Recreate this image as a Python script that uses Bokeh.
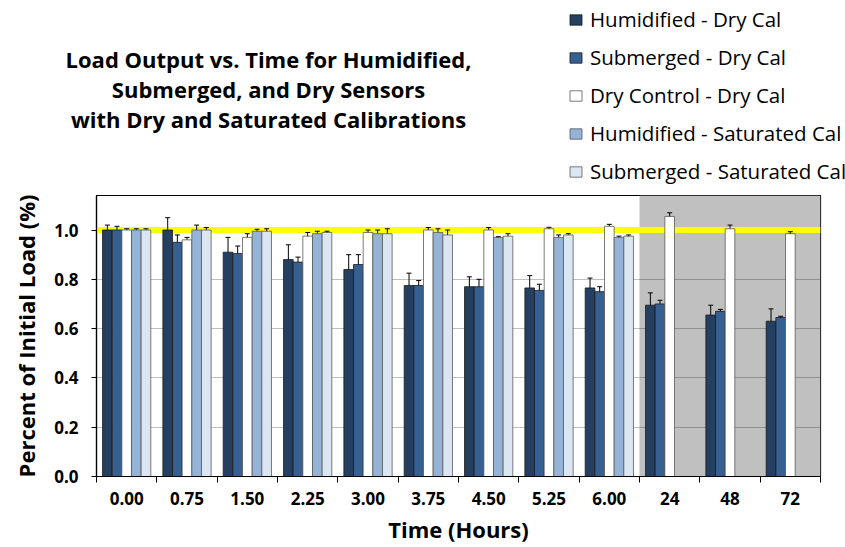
import numpy as np
from bokeh.plotting import figure
from bokeh.layouts import column, row
from bokeh.models import (ColumnDataSource, Whisker, TeeHead, Span, BoxAnnotation,
                          Legend, LegendItem, FixedTicker, Range1d, PrintfTickFormatter)
from bokeh.core.properties import value
from bokeh.transform import dodge
from bokeh.embed import file_html
from bokeh.resources import INLINE

nan = float("nan")

# ---- data ----
time_labels = ["0.00", "0.75", "1.50", "2.25", "3.00", "3.75", "4.50", "5.25", "6.00", "24", "48", "72"]
series_names = ["Humidified - Dry Cal", "Submerged - Dry Cal", "Dry Control - Dry Cal",
                "Humidified - Saturated Cal", "Submerged - Saturated Cal"]
hum_dry = [1.00, 1.00, 0.91, 0.88, 0.84, 0.775, 0.77, 0.765, 0.765, 0.695, 0.655, 0.63]
hum_dry_err = [0.02, 0.05, 0.06, 0.06, 0.06, 0.05, 0.04, 0.05, 0.04, 0.05, 0.04, 0.05]
sub_dry = [1.00, 0.95, 0.905, 0.87, 0.86, 0.775, 0.77, 0.755, 0.75, 0.70, 0.67, 0.645]
sub_dry_err = [0.015, 0.03, 0.03, 0.02, 0.04, 0.02, 0.03, 0.025, 0.02, 0.015, 0.008, 0.005]
dry_ctrl = [1.00, 0.96, 0.97, 0.975, 0.99, 1.00, 1.00, 1.005, 1.015, 1.055, 1.005, 0.985]
dry_ctrl_err = [0.005, 0.01, 0.015, 0.015, 0.01, 0.01, 0.01, 0.006, 0.008, 0.015, 0.015, 0.008]
hum_sat = [1.00, 1.00, 0.995, 0.985, 0.985, 0.99, 0.97, 0.97, 0.97, nan, nan, nan]
hum_sat_err = [0.005, 0.02, 0.008, 0.01, 0.015, 0.015, 0.003, 0.01, 0.005, nan, nan, nan]
sub_sat = [1.00, 1.00, 0.995, 0.99, 0.985, 0.98, 0.975, 0.98, 0.975, nan, nan, nan]
sub_sat_err = [0.005, 0.01, 0.01, 0.005, 0.02, 0.02, 0.01, 0.005, 0.005, nan, nan, nan]
y_ticks = [0.0, 0.2, 0.4, 0.6, 0.8, 1.0]
reference_level = 1.0
shaded_from_group = 9  # first group (24 h) of the shaded region
title_lines = ["Load Output vs. Time for Humidified,", "Submerged, and Dry Sensors",
               "with Dry and Saturated Calibrations"]

values = [hum_dry, sub_dry, dry_ctrl, hum_sat, sub_sat]
errors = [hum_dry_err, sub_dry_err, dry_ctrl_err, hum_sat_err, sub_sat_err]
colors = ["#243f60", "#376092", "#ffffff", "#95b3d7", "#dce6f2"]
line_colors = ["#1a1a1a", "#1a1a1a", "#595959", "#595959", "#595959"]

FONT = "Open Sans"
W = 845
TOP_H = 190
TITLE_W = 560
n = len(time_labels)
centers = np.arange(n) + 0.5
bar_w = 0.16
offsets = [-0.32, -0.16, 0.0, 0.16, 0.32]

# ---------- header: title ----------
tfig = figure(width=TITLE_W, height=TOP_H, output_backend="svg", toolbar_location=None,
              x_range=Range1d(0, TITLE_W), y_range=Range1d(TOP_H, 0),
              x_axis_type=None, y_axis_type=None, min_border=0)
tfig.outline_line_color = None
tfig.grid.visible = False
tfig.text(x=[268] * 3, y=[55, 86, 117], text=title_lines, text_align="center",
          text_baseline="middle", text_font=value(FONT), text_font_style="bold",
          text_font_size="22px", text_color="black")

# ---------- header: legend ----------
lfig = figure(width=W - TITLE_W, height=TOP_H, output_backend="svg", toolbar_location=None,
              x_range=Range1d(0, 1), y_range=Range1d(0, 1),
              x_axis_type=None, y_axis_type=None, min_border=0,
              min_border_left=8, min_border_top=5)
lfig.outline_line_color = None
lfig.grid.visible = False
items = []
for name, col, lc in zip(series_names, colors, line_colors):
    r = lfig.quad(left=[nan], right=[nan], top=[nan], bottom=[nan],
                  fill_color=col, line_color=lc, line_width=0.8)
    items.append(LegendItem(label=name, renderers=[r]))
legend = Legend(items=items, location="top_left", orientation="vertical", margin=0,
                label_text_font=FONT, label_text_font_size="20.5px", label_text_color="black",
                glyph_width=15, glyph_height=13, label_standoff=7, spacing=10, padding=0,
                border_line_color=None, background_fill_alpha=0)
lfig.add_layout(legend, "center")

# ---------- chart ----------
p = figure(width=W, height=547 - TOP_H, output_backend="svg", toolbar_location=None,
           x_range=Range1d(0, n), y_range=Range1d(0, 1.14),
           min_border_left=96, min_border_right=25, min_border_top=5, min_border_bottom=71)
p.background_fill_color = "white"
p.outline_line_color = "black"
p.outline_line_width = 1.2

p.add_layout(BoxAnnotation(left=shaded_from_group, right=n, fill_color="#c0c0c0", fill_alpha=1.0,
                           line_color=None, level="image"))

p.xgrid.visible = False
p.ygrid.ticker = FixedTicker(ticks=y_ticks)
p.ygrid.grid_line_color = "black"
p.ygrid.grid_line_alpha = 0.25

p.add_layout(Span(location=reference_level, dimension="width", line_color="#ffff00",
                  line_width=6, level="underlay"))

for vals, errs, col, lc, off in zip(values, errors, colors, line_colors, offsets):
    v = np.array(vals, dtype=float)
    e = np.array(errs, dtype=float)
    src = ColumnDataSource(dict(x=centers, top=v, upper=v + e, lower=v - e))
    p.vbar(x=dodge("x", off), top="top", width=bar_w, bottom=0, source=src,
           fill_color=col, line_color=lc, line_width=0.8)
    p.add_layout(Whisker(source=src, base=dodge("x", off), upper="upper", lower="lower",
                         line_color="black", line_width=1,
                         upper_head=TeeHead(size=5, line_color="black", line_width=1),
                         lower_head=TeeHead(size=5, line_color="black", line_width=1)))

p.xaxis.ticker = FixedTicker(ticks=list(centers), minor_ticks=list(range(n + 1)))
p.xaxis.major_label_overrides = {float(c): lab for c, lab in zip(centers, time_labels)}
p.xaxis.major_tick_in = 0
p.xaxis.major_tick_out = 0
p.xaxis.minor_tick_in = 0
p.xaxis.minor_tick_out = 6
p.xaxis.minor_tick_line_color = "black"
p.xaxis.axis_label = "Time (Hours)"
p.xaxis.major_label_standoff = 9

p.yaxis.ticker = FixedTicker(ticks=y_ticks)
p.yaxis.formatter = PrintfTickFormatter(format="%.1f")
p.yaxis.major_tick_in = 0
p.yaxis.major_tick_out = 5
p.yaxis.minor_tick_line_color = None
p.yaxis.axis_label = "Percent of Initial Load (%)"
p.yaxis.major_label_standoff = 13

for ax in (p.xaxis[0], p.yaxis[0]):
    ax.axis_line_color = "black"
    ax.axis_line_width = 1.2
    ax.major_tick_line_color = "black"
    ax.major_label_text_font = FONT
    ax.major_label_text_font_style = "bold"
    ax.major_label_text_font_size = "17px"
    ax.major_label_text_color = "black"
    ax.axis_label_text_font = FONT
    ax.axis_label_text_font_style = "bold"
    ax.axis_label_text_color = "black"
p.xaxis.axis_label_text_font_size = "22px"
p.yaxis.axis_label_text_font_size = "22px"
p.xaxis.axis_label_standoff = 6
p.yaxis.axis_label_standoff = 10

layout = column(row(tfig, lfig, spacing=0), p, spacing=0)
open("out.html", "w").write(file_html(layout, INLINE))
